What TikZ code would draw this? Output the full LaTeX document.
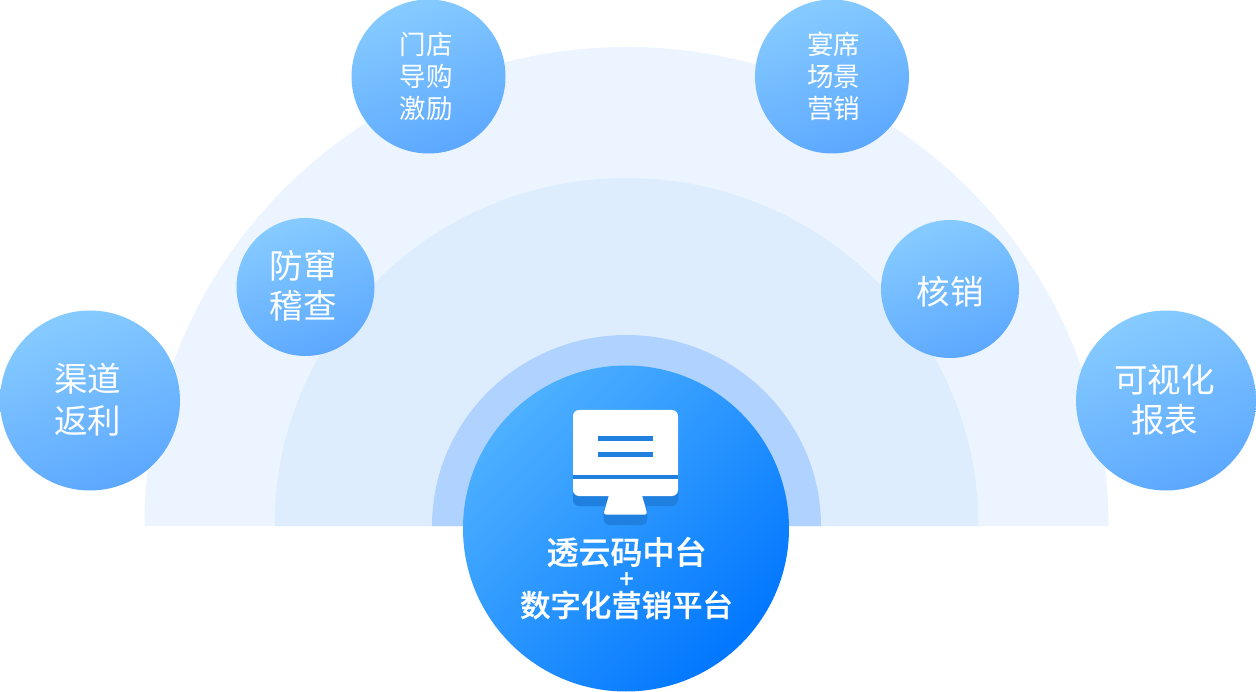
\documentclass[tikz,border=0pt]{standalone}
\usepackage{fontspec}
\setmainfont[BoldFont={Noto Sans CJK SC Medium},BoldFeatures={FakeBold=0.6}]{Noto Sans CJK SC}
\definecolor{halfa}{HTML}{ECF5FF}
\definecolor{halfb}{HTML}{DEEDFE}
\definecolor{halfc}{HTML}{AFD2FE}
\definecolor{shadeblue}{HTML}{2080E0}
\definecolor{satlight}{HTML}{8FD2FF}
\definecolor{satdark}{HTML}{56A3FF}
\definecolor{hublight}{HTML}{58B8FF}
\definecolor{hubdark}{HTML}{0076FF}
\pgfdeclareverticalshading{satshade}{100bp}{color(0bp)=(satdark); color(18bp)=(satdark); color(85bp)=(satlight); color(100bp)=(satlight)}
\pgfdeclareverticalshading{hubshade}{100bp}{color(0bp)=(hubdark); color(24bp)=(hubdark); color(82bp)=(hublight); color(100bp)=(hublight)}
\tikzset{
  sat/.style={circle,draw=none,inner sep=0pt,shading=satshade,shading angle=20},
  sata/.style={sat,minimum size=154pt},
  satb/.style={sat,minimum size=138pt},
  satc/.style={sat,minimum size=180pt},
  hub/.style={circle,draw=none,inner sep=0pt,minimum size=326pt,shading=hubshade,shading angle=45},
  lab/.style={text=white,align=center,inner sep=0pt},
  laba/.style={lab,font=\fontsize{26.5}{32}\selectfont},
  labb/.style={lab,font=\fontsize{33.5}{40}\selectfont},
  labc/.style={lab,font=\fontsize{33.5}{42}\selectfont},
}
\begin{document}
\begin{tikzpicture}[x=1pt,y=-1pt]
\path[use as bounding box,fill=white] (0,0) rectangle (1256,692);
\fill[halfa] (144.5,526) arc[start angle=180,end angle=0,x radius=482pt,y radius=479pt] -- cycle;
\fill[halfb] (274.5,526) arc[start angle=180,end angle=0,x radius=352pt,y radius=348pt] -- cycle;
\fill[halfc] (432,526) arc[start angle=180,end angle=0,x radius=194.5pt,y radius=191pt] -- cycle;

\node[sata] (c1) at (428.5,76.5) {};
\node[sata] (c2) at (832,76.5) {};
\node[satb] (c3) at (305.5,287) {};
\node[satb] (c4) at (950,289) {};
\node[satc] (c5) at (90,400.5) {};
\node[satc] (c6) at (1166,400.5) {};
\node[hub] (hubc) at (626,528.5) {};

\node[laba] (t1) at (426,76.5) {门店\\导购\\激励};
\node[laba] (t2) at (833.5,76.5) {宴席\\场景\\营销};
\node[labb] (t3) at (303,286) {防窜\\稽查};
\node[labb] (t4) at (950,291.5) {核销};
\node[labc] (t5) at (87.5,400) {渠道\\返利};
\node[labb] (t6) at (1164.5,400) {可视化\\报表};

% icon
\fill[shadeblue,rounded corners=6pt] (573,440) rectangle (678,506);
\fill[shadeblue,rounded corners=5pt] (603.7,505) rectangle (647.2,525);
\fill[white,rounded corners=6pt] (573,410) rectangle (678,496);
\fill[white,rounded corners=3pt] (610.5,490) -- (640.5,490) -- (647.5,514.7) -- (603.3,514.7) -- cycle;
\fill[shadeblue] (573,474.7) rectangle (678,479);
\fill[shadeblue] (598.3,436) rectangle (652.7,440.7);
\fill[shadeblue] (598.3,452) rectangle (652.7,456.7);

\node[lab,font=\fontsize{32}{32}\selectfont\bfseries] (h1) at (626.5,552) {透云码中台};
\node[lab,font=\fontsize{25}{25}\selectfont\bfseries] (h2) at (626.5,580) {+};
\node[lab,font=\fontsize{30.4}{30}\selectfont\bfseries] (h3) at (626.5,605) {数字化营销平台};
\end{tikzpicture}
\end{document}
